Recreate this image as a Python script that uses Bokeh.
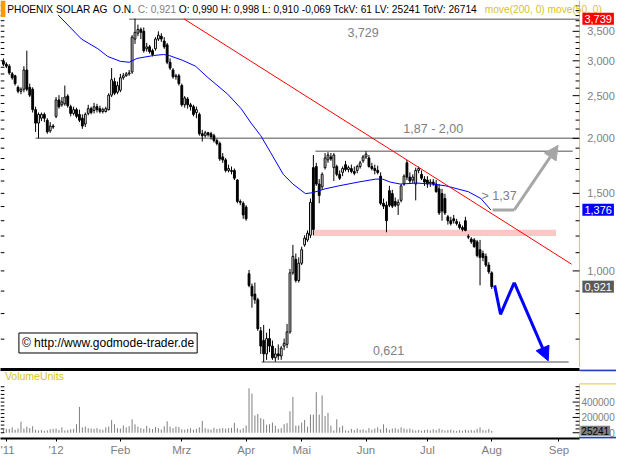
from bokeh.plotting import figure
from bokeh.layouts import column
from bokeh.core.properties import value
from bokeh.models import (Range1d, FixedTicker, LinearAxis, Label, Arrow,
                          NormalHead, BoxAnnotation)
from bokeh.embed import file_html
from bokeh.resources import INLINE

# ---------------- data (trading-day index 0 = 6 Dec 2011 ... 167 = 1 Aug 2012) -------------
opens = [2.992, 2.947, 2.917, 2.802, 2.774, 2.611, 2.558, 2.585, 2.859, 2.611,
         2.585, 2.324, 2.166, 2.222, 2.267, 2.199, 2.080, 2.133,
         2.244, 2.445, 2.384, 2.396, 2.495, 2.360, 2.278, 2.324, 2.267, 2.222,
         2.155, 2.278, 2.336, 2.313, 2.360, 2.336, 2.301, 2.301, 2.324, 2.507,
         2.691, 2.545, 2.572, 2.746, 2.774, 2.802, 2.830, 3.361, 3.465, 3.535,
         3.500, 3.195, 3.227, 3.163, 3.195, 3.361, 3.412, 3.327, 3.260, 2.977,
         2.859, 2.760, 2.774, 2.636, 2.384, 2.457, 2.384, 2.360, 2.289, 2.267,
         2.049, 2.028, 2.059, 2.049, 2.028, 1.977, 1.947, 1.815, 1.787, 1.691,
         1.691, 1.691, 1.608, 1.438, 1.424, 1.396,
         0.985, 0.923, 0.886, 0.860, 0.731, 0.695, 0.648, 0.702, 0.675, 0.635,
         0.648, 0.641, 0.675, 0.681, 0.727, 0.990, 1.062, 0.951, 1.041, 1.146,
         1.176, 1.205, 1.716, 1.726, 1.575, 1.552, 1.716, 1.787, 1.815, 1.716,
         1.726, 1.657, 1.674, 1.743, 1.699, 1.708, 1.682, 1.691, 1.726, 1.778,
         1.815, 1.805, 1.726, 1.708, 1.691, 1.641, 1.424, 1.410, 1.521, 1.498,
         1.438, 1.410, 1.446, 1.575, 1.760, 1.633, 1.608, 1.575, 1.691, 1.657,
         1.616, 1.608, 1.583, 1.591, 1.575, 1.536, 1.498, 1.460, 1.327, 1.300,
         1.313, 1.294, 1.274, 1.255, 1.300, 1.199, 1.181, 1.176, 1.164, 1.117,
         1.095, 1.079, 1.031, 0.990]
highs = [3.038, 2.977, 2.947, 2.830, 2.788, 2.636, 2.611, 2.917, 3.163, 2.663,
         2.611, 2.360, 2.289, 2.289, 2.289, 2.222, 2.177, 2.155,
         2.482, 2.507, 2.482, 2.636, 2.519, 2.384, 2.360, 2.348, 2.324, 2.267,
         2.289, 2.384, 2.360, 2.408, 2.396, 2.372, 2.348, 2.360, 2.532, 2.888,
         2.746, 2.691, 2.802, 2.816, 2.830, 2.859, 3.430, 3.739, 3.625, 3.571,
         3.571, 3.294, 3.260, 3.195, 3.395, 3.500, 3.465, 3.395, 3.294, 3.038,
         2.888, 2.802, 2.802, 2.663, 2.495, 2.482, 2.408, 2.384, 2.360, 2.289,
         2.091, 2.080, 2.069, 2.069, 2.049, 1.997, 1.967, 1.852, 1.805, 1.743,
         1.726, 1.708, 1.616, 1.453, 1.438, 1.410,
         1.005, 0.936, 0.941, 0.869, 0.746, 0.754, 0.724, 0.739, 0.695, 0.668,
         0.681, 0.675, 0.702, 0.758, 1.010, 1.146, 1.095, 1.073, 1.135, 1.205,
         1.236, 1.460, 1.833, 1.760, 1.616, 1.674, 1.852, 1.861, 1.852, 1.852,
         1.743, 1.691, 1.726, 1.778, 1.734, 1.743, 1.726, 1.743, 1.778, 1.833,
         1.870, 1.833, 1.760, 1.743, 1.734, 1.674, 1.460, 1.438, 1.560, 1.528,
         1.468, 1.453, 1.575, 1.657, 1.787, 1.674, 1.657, 1.716, 1.726, 1.691,
         1.641, 1.641, 1.616, 1.616, 1.608, 1.575, 1.536, 1.498, 1.340, 1.327,
         1.340, 1.313, 1.294, 1.268, 1.327, 1.211, 1.193, 1.187, 1.176, 1.176,
         1.112, 1.095, 1.047, 0.998]
lows = [2.917, 2.888, 2.788, 2.718, 2.636, 2.532, 2.519, 2.545, 2.558, 2.482,
        2.289, 2.069, 2.000, 2.188, 2.177, 2.049, 2.059, 2.102,
        2.222, 2.336, 2.360, 2.372, 2.348, 2.244, 2.255, 2.222, 2.177, 2.102,
        2.122, 2.255, 2.267, 2.278, 2.289, 2.278, 2.278, 2.289, 2.313, 2.482,
        2.507, 2.519, 2.545, 2.718, 2.760, 2.774, 2.802, 3.277, 3.412, 3.361,
        3.131, 3.147, 3.115, 3.069, 3.163, 3.327, 3.311, 3.195, 2.947, 2.859,
        2.732, 2.718, 2.636, 2.360, 2.348, 2.336, 2.313, 2.244, 2.222, 2.028,
        1.967, 2.008, 2.018, 1.987, 1.957, 1.928, 1.778, 1.760, 1.674, 1.674,
        1.657, 1.608, 1.424, 1.410, 1.313, 1.300,
        0.918, 0.825, 0.842, 0.731, 0.648, 0.621, 0.628, 0.654, 0.628, 0.622,
        0.628, 0.628, 0.661, 0.668, 0.720, 0.980, 0.941, 0.941, 1.031, 1.135,
        1.164, 1.187, 1.205, 1.560, 1.424, 1.528, 1.699, 1.760, 1.778, 1.600,
        1.641, 1.608, 1.641, 1.682, 1.674, 1.666, 1.649, 1.666, 1.708, 1.760,
        1.796, 1.716, 1.691, 1.657, 1.657, 1.410, 1.382, 1.224, 1.396, 1.389,
        1.396, 1.340, 1.431, 1.560, 1.608, 1.575, 1.583, 1.446, 1.666, 1.608,
        1.560, 1.544, 1.552, 1.560, 1.506, 1.340, 1.300, 1.340, 1.274, 1.268,
        1.281, 1.268, 1.242, 1.230, 1.230, 1.181, 1.152, 1.129, 1.073, 0.927,
        1.052, 1.021, 0.985, 0.910]
closes = [2.947, 2.917, 2.816, 2.746, 2.663, 2.558, 2.585, 2.859, 2.585, 2.507,
          2.324, 2.166, 2.267, 2.267, 2.222, 2.069, 2.133, 2.122,
          2.445, 2.360, 2.420, 2.482, 2.372, 2.278, 2.324, 2.244, 2.199, 2.133,
          2.267, 2.336, 2.289, 2.360, 2.324, 2.301, 2.324, 2.336, 2.507, 2.718,
          2.532, 2.636, 2.746, 2.774, 2.802, 2.816, 3.395, 3.482, 3.535, 3.482,
          3.163, 3.227, 3.147, 3.099, 3.361, 3.430, 3.361, 3.227, 2.977, 2.888,
          2.760, 2.774, 2.663, 2.384, 2.470, 2.384, 2.360, 2.267, 2.324, 2.049,
          2.028, 2.059, 2.038, 2.018, 1.977, 1.947, 1.796, 1.787, 1.691, 1.708,
          1.682, 1.624, 1.438, 1.431, 1.340, 1.313,
          0.927, 0.877, 0.860, 0.739, 0.675, 0.648, 0.702, 0.675, 0.635, 0.648,
          0.641, 0.668, 0.685, 0.727, 0.990, 1.079, 0.951, 1.041, 1.117, 1.187,
          1.218, 1.431, 1.242, 1.575, 1.483, 1.657, 1.805, 1.833, 1.796, 1.833,
          1.657, 1.624, 1.708, 1.699, 1.716, 1.682, 1.666, 1.726, 1.760, 1.815,
          1.842, 1.726, 1.708, 1.691, 1.674, 1.424, 1.403, 1.300, 1.410, 1.403,
          1.410, 1.431, 1.560, 1.641, 1.633, 1.600, 1.633, 1.691, 1.708, 1.624,
          1.591, 1.575, 1.591, 1.575, 1.513, 1.354, 1.368, 1.354, 1.300, 1.281,
          1.300, 1.281, 1.255, 1.242, 1.236, 1.193, 1.164, 1.135, 1.084, 1.073,
          1.073, 1.031, 0.995, 0.921]
volumes = [40000, 50000, 50000, 70000, 40000, 55000, 145000, 55000, 80000, 60000,
           85000, 40000, 30000, 35000, 25000, 30000, 45000, 50000,
           55000, 35000, 70000, 30000, 35000, 45000, 50000, 112000, 337000, 70000,
           80000, 60000, 55000, 50000, 60000, 45000, 40000, 70000, 80000, 165000,
           110000, 60000, 55000, 95000, 70000, 85000, 175000, 110000, 80000, 60000,
           50000, 90000, 60000, 50000, 75000, 60000, 40000, 85000, 150000, 80000,
           60000, 80000, 75000, 45000, 40000, 50000, 60000, 40000, 50000, 70000,
           155000, 60000, 50000, 40000, 65000, 50000, 55000, 60000, 55000, 60000,
           65000, 130000, 60000, 40000, 60000, 95000,
           580000, 510000, 225000, 245000, 190000, 175000, 105000, 112000, 133000, 92000,
           50000, 60000, 112000, 125000, 280000, 467000, 92000, 95000, 133000, 167000,
           80000, 237000, 237000, 530000, 237000, 487000, 217000, 258000, 92000, 30000,
           175000, 70000, 92000, 30000, 25000, 50000, 35000, 55000, 40000, 45000,
           30000, 60000, 40000, 55000, 70000, 45000, 110000, 60000, 40000, 55000,
           60000, 45000, 70000, 55000, 45000, 55000, 40000, 30000, 35000, 25000,
           35000, 40000, 30000, 45000, 35000, 55000, 40000, 30000, 35000, 40000,
           30000, 25000, 35000, 25000, 40000, 30000, 35000, 30000, 50000, 70000,
           35000, 30000, 50000, 25241]

# 50-day moving average as drawn (index, value)
ma_x = [18.7, 26.7, 32.3, 35.7, 40, 43, 45.7, 51.3, 54.7, 56.7, 61.3, 65.7, 70, 76.7,
        81.3, 84.7, 88, 91.3, 95.7, 99, 103.3, 105.7, 110, 114.7, 121.3, 127.3, 129.7,
        132.3, 135.7, 141.3, 146.7, 151.3, 159, 163.3, 166.7]
ma_y = [3.813, 3.361, 3.195, 3.068, 2.992, 2.977, 3.038, 3.084, 3.100, 3.084, 3.007,
        2.917, 2.746, 2.520, 2.336, 2.166, 2.028, 1.861, 1.657, 1.575, 1.498, 1.505,
        1.536, 1.560, 1.591, 1.616, 1.616, 1.591, 1.575, 1.583, 1.575, 1.560, 1.513,
        1.460, 1.375]

# drawn analysis objects
trend_x = [61.7, 194.3]
trend_y = [3.737, 1.036]
level_y = [3.729, 2.00, 1.87, 0.621]
level_x0 = [43.0, 11.0, 106.7, 88.3]
level_x1 = [197.0, 197.0, 194.7, 193.3]
band_x = [106.0, 189.0]
band_y = [1.20, 1.24]
gray_path_x = [167.3, 174.7, 189.7]
gray_path_y = [1.375, 1.375, 1.928]
blue_path_x = [168.0, 170.0, 174.7, 186.3]
blue_path_y = [0.927, 0.797, 0.941, 0.625]

price_ticks = [1.0, 1.5, 2.0, 2.5, 3.0, 3.5]
price_labels = ["1,000", "1,500", "2,000", "2,500", "3,000", "3,500"]
price_minor = [0.7, 0.8, 0.9, 1.1, 1.2, 1.3, 1.4, 1.6, 1.7, 1.8, 1.9, 2.1, 2.2, 2.3,
               2.4, 2.6, 2.7, 2.8, 2.9, 3.1, 3.2, 3.3, 3.4, 3.6, 3.7, 3.8, 3.9, 4.0]
price_marks = [("3,739", 3.739, "#ff0000"), ("1,376", 1.376, "#0000ff"), ("0,921", 0.921, "#5a5a5a")]
vol_ticks = [0, 200000, 400000]
vol_labels = ["0", "200000", "400000"]
vol_minor = [50000, 100000, 150000, 250000, 300000, 350000, 450000, 500000, 550000, 600000]
month_ticks = [0.9, 18, 40, 61, 83, 102, 124, 145, 167, 190]
month_labels = ["'11", "'12", "Feb", "Mrz", "Apr", "Mai", "Jun", "Jul", "Aug", "Sep"]

FONT = "Liberation Sans"
GRAY = "#808080"
YEL = "#d4c41e"
AXIS_YEL = "#f2c230"

X0, X1 = -1.0, 209.67      # full canvas width (price scale area included)
XAX = 197.0                # position of the price-scale border line
PX = 1.0 / 3.0             # one reference pixel in index units
idx = list(range(len(closes)))
PY0, PY1 = 0.6035, 4.112
VY0, VY1 = -75000, 825000

# ---------------- price panel ----------------
p = figure(width=616, height=367, x_range=Range1d(X0, X1), y_range=Range1d(PY0, PY1),
           y_axis_type="log", y_axis_location=None, x_axis_location=None,
           output_backend="svg", toolbar_location=None,
           min_border_left=0, min_border_right=0, min_border_top=0, min_border_bottom=0)
p.outline_line_color = None
p.grid.visible = False

# support band and levels
p.quad(left=[band_x[0]], right=[band_x[1]], bottom=[band_y[0]], top=[band_y[1]],
       fill_color="#ffc6c6", line_color=None)
p.segment(x0=level_x0, x1=level_x1, y0=level_y, y1=level_y, line_color="#8a8a8a", line_width=1.5)

# candles
p.segment(x0=idx, x1=idx, y0=highs, y1=lows, line_color="black", line_width=1)
inc = [i for i in idx if closes[i] >= opens[i]]
dec = [i for i in idx if closes[i] < opens[i]]
p.vbar(x=inc, width=0.62, bottom=[opens[i] for i in inc], top=[closes[i] for i in inc],
       fill_color="white", line_color="black", line_width=1)
p.vbar(x=dec, width=0.62, bottom=[closes[i] for i in dec], top=[opens[i] for i in dec],
       fill_color="black", line_color="black", line_width=1)

# MA and trend line
p.line(ma_x, ma_y, line_color="#0000ff", line_width=1)
p.line(trend_x, trend_y, line_color="#ff0000", line_width=1)

# forecast arrows
p.line(gray_path_x[:-1], gray_path_y[:-1], line_color="#a6a6a6", line_width=3)
p.add_layout(Arrow(end=NormalHead(size=14, fill_color="#a6a6a6", line_color="#a6a6a6"),
                   x_start=gray_path_x[-2], y_start=gray_path_y[-2],
                   x_end=gray_path_x[-1], y_end=gray_path_y[-1],
                   line_color="#a6a6a6", line_width=3))
p.line(blue_path_x[:-1], blue_path_y[:-1], line_color="#0000ff", line_width=3)
p.add_layout(Arrow(end=NormalHead(size=14, fill_color="#0000ff", line_color="#0000ff"),
                   x_start=blue_path_x[-2], y_start=blue_path_y[-2],
                   x_end=blue_path_x[-1], y_end=blue_path_y[-1],
                   line_color="#0000ff", line_width=3))


def lab(fig, x, y, text, color=GRAY, size="12.5px", align="left", **kw):
    fig.add_layout(Label(x=x, y=y, text=text, text_color=color, text_font=FONT,
                         text_font_size=size, text_align=align, text_baseline="middle", **kw))


lab(p, 123, 3.48, "3,729", align="center")
lab(p, 147, 2.10, "1,87 - 2,00", align="center")
lab(p, 131.7, 0.658, "0,621", align="center")
lab(p, 169.5, 1.476, "> 1,37", align="center")
lab(p, 5.3, 0.686, "\u00a9 http://www.godmode-trader.de", color="black", size="12px",
    background_fill_color="white", border_line_color="black", padding=3)

# header line
p.add_layout(BoxAnnotation(left=X0, right=0.67, bottom=3.774, top=PY1,
                           fill_color="#ff9900", fill_alpha=1, line_color=None))
lab(p, 1.3, 3.93, "PHOENIX SOLAR AG\u00a0 O.N.", color="black", size="10.2px")
lab(p, 45.9, 3.93, "C: 0,921", color=GRAY, size="10.2px")
lab(p, 60.0, 3.93, "O: 0,990 H: 0,998 L: 0,910 -0,069 TckV: 61 LV: 25241 TotV: 26714",
    color="black", size="10.2px")
lab(p, 164.6, 3.93, "move(200, 0) move(50, 0)", color=YEL, size="10.2px")

# price scale (right border area)
p.segment(x0=[XAX], x1=[XAX], y0=[PY0], y1=[PY1], line_color=AXIS_YEL, line_width=1)
p.segment(x0=[XAX - 7 * PX] * len(price_ticks), x1=[XAX] * len(price_ticks),
          y0=price_ticks, y1=price_ticks, line_color="black", line_width=1)
p.segment(x0=[XAX - 4 * PX] * len(price_minor), x1=[XAX] * len(price_minor),
          y0=price_minor, y1=price_minor, line_color="black", line_width=1)
all_price_ticks = price_ticks + price_minor
p.segment(x0=[X0] * len(all_price_ticks), x1=[X0 + 4 * PX] * len(all_price_ticks),
          y0=all_price_ticks, y1=all_price_ticks, line_color="black", line_width=1)
p.text(x=[X1 - 0.6] * len(price_ticks), y=price_ticks, text=price_labels,
       text_align=value("right"), text_baseline=value("middle"), text_color=GRAY,
       text_font=value(FONT), text_font_size=value("11px"))
for t, yv, col in price_marks:
    lab(p, XAX + 1.0, yv, t, color="white", size="11px", background_fill_color=col, padding=2)

# ---------------- volume panel ----------------
v = figure(width=616, height=91, x_range=p.x_range, y_range=Range1d(VY0, VY1),
           y_axis_location=None, x_axis_location="below",
           output_backend="svg", toolbar_location=None,
           min_border_left=0, min_border_right=0, min_border_top=2, min_border_bottom=0)
v.outline_line_color = None
v.grid.visible = False

xa = v.below[0]
xa.ticker = FixedTicker(ticks=month_ticks)
xa.major_label_overrides = dict(zip(month_ticks, month_labels))
xa.major_label_text_color = GRAY
xa.major_label_text_font = FONT
xa.major_label_text_font_size = "11.5px"
xa.axis_line_width = 2
xa.major_tick_out = 3
xa.major_tick_in = 0
xa.minor_tick_out = 0
xa.minor_tick_in = 0
xa.major_label_standoff = 2
xa.bounds = (X0, XAX)

sep = LinearAxis(ticker=FixedTicker(ticks=[]), axis_line_color="black", axis_line_width=3,
                 major_tick_in=0, major_tick_out=0, minor_tick_in=0, minor_tick_out=0,
                 major_label_standoff=0, bounds=(X0, XAX))
v.add_layout(sep, "above")

v.segment(x0=idx, x1=idx, y0=[0] * len(volumes), y1=volumes, line_color="#7f7f7f", line_width=1)

# volume scale
v.segment(x0=[XAX, XAX], x1=[XAX, X1], y0=[VY0, 637500], y1=[637500, 637500],
          line_color=AXIS_YEL, line_width=1)
v.segment(x0=[XAX, XAX], x1=[X1, X1], y0=[VY1 - 9000, VY0 + 9000], y1=[VY1 - 9000, VY0 + 9000],
          line_color="#1f3fbf", line_width=2)
v.segment(x0=[XAX - 7 * PX] * len(vol_ticks), x1=[XAX] * len(vol_ticks),
          y0=vol_ticks, y1=vol_ticks, line_color="black", line_width=1)
v.segment(x0=[XAX - 4 * PX] * len(vol_minor), x1=[XAX] * len(vol_minor),
          y0=vol_minor, y1=vol_minor, line_color="black", line_width=1)
all_vol_ticks = vol_ticks + vol_minor
v.segment(x0=[X0] * len(all_vol_ticks), x1=[X0 + 4 * PX] * len(all_vol_ticks),
          y0=all_vol_ticks, y1=all_vol_ticks, line_color="black", line_width=1)
v.text(x=[X1 - 0.6] * len(vol_ticks), y=vol_ticks, text=vol_labels,
       text_align=value("right"), text_baseline=value("middle"), text_color=GRAY,
       text_font=value(FONT), text_font_size=value("10px"))
lab(v, XAX + 0.3, volumes[-1], "25241", color="black", size="10px",
    background_fill_color="#7f7f7f", padding=1)
lab(v, 0.5, 737500, "VolumeUnits", color=YEL, size="10.5px")

layout = column(p, v, spacing=0)
open("out.html", "w").write(file_html(layout, INLINE))
